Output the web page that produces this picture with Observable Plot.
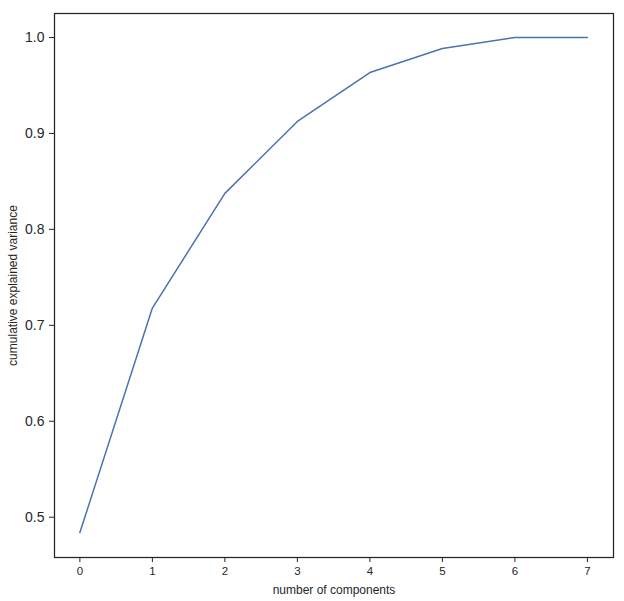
<!DOCTYPE html>
<html>
<head>
<meta charset="utf-8">
<script src="https://cdn.jsdelivr.net/npm/d3@7"></script>
<script src="https://cdn.jsdelivr.net/npm/@observablehq/plot@0.6"></script>
<style>
  body { margin: 0; background: #fff; }
  svg { font-family: "Liberation Sans", Arial, sans-serif; }
</style>
</head>
<body>
<div id="chart"></div>
<script>
const components = [0, 1, 2, 3, 4, 5, 6, 7];
const cumVariance = [0.484, 0.718, 0.8375, 0.9125, 0.9635, 0.9885, 1.0, 1.0];
const xTicks = [0, 1, 2, 3, 4, 5, 6, 7];
const yTicks = [0.5, 0.6, 0.7, 0.8, 0.9, 1.0];

const data = components.map((c, i) => ({c, v: cumVariance[i]}));

const chart = Plot.plot({
  width: 624,
  height: 601,
  marginLeft: 54,
  marginRight: 11,
  marginTop: 13,
  marginBottom: 44,
  style: {background: "#fff", color: "#262626", fontFamily: "'Liberation Sans', Arial, sans-serif"},
  x: {domain: [-0.35, 7.36]},
  y: {domain: [0.458, 1.025]},
  marks: [
    Plot.axisX({ticks: xTicks, tickSize: 5, tickPadding: 4, fontSize: 11.5, stroke: "#262626", fill: "#262626",
      label: "number of components", labelAnchor: "center", labelOffset: 36, labelArrow: "none"}),
    Plot.axisY({ticks: yTicks, tickSize: 5, tickPadding: 5, fontSize: 14, tickFormat: d3.format(".1f"), stroke: "#262626", fill: "#262626",
      label: "cumulative explained variance", labelAnchor: "center", labelOffset: 46, labelArrow: "none"}),
    Plot.line(data, {x: "c", y: "v", stroke: "#4c72b0", strokeWidth: 1.5}),
    Plot.frame({stroke: "#262626", strokeWidth: 1.25})
  ]
});
chart.querySelectorAll("[aria-label='x-axis label'] text, [aria-label='y-axis label'] text").forEach(t => t.setAttribute("font-size", 12));
document.getElementById("chart").appendChild(chart);
</script>
</body>
</html>
